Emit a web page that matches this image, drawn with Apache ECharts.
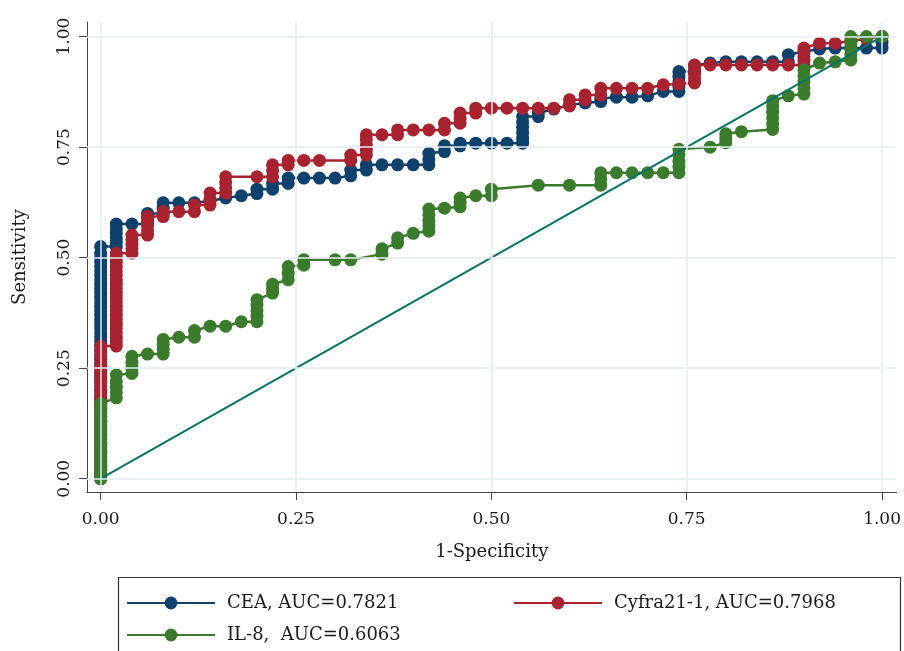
<!DOCTYPE html>
<html>
<head>
<meta charset="utf-8">
<script src="https://cdn.jsdelivr.net/npm/echarts@6/dist/echarts.min.js"></script>
<style>html,body{margin:0;padding:0;background:#fff}#c{width:904px;height:651px}</style>
</head>
<body>
<div id="c"></div>
<script>
// ---- data ----
const xTickValues = [0, 0.25, 0.5, 0.75, 1];
const yTickValues = [0, 0.25, 0.5, 0.75, 1];
const tickLabels = ['0.00', '0.25', '0.50', '0.75', '1.00'];
const seriesNames = ['CEA, AUC=0.7821', 'Cyfra21-1, AUC=0.7968', 'IL-8,  AUC=0.6063'];
const xTitle = '1-Specificity';
const yTitle = 'Sensitivity';

const cea = [
  [0,0],[0,0.01],[0,0.02],[0,0.03],[0,0.04],[0,0.05],[0,0.06],[0,0.07],[0,0.08],[0,0.09],
  [0,0.10],[0,0.11],[0,0.12],[0,0.13],[0,0.14],[0,0.15],[0,0.16],[0,0.17],[0,0.18],[0,0.19],
  [0,0.20],[0,0.21],[0,0.22],[0,0.23],[0,0.24],[0,0.25],[0,0.26],[0,0.27],[0,0.28],[0,0.29],
  [0,0.30],[0,0.31],[0,0.32],[0,0.33],[0,0.34],[0,0.35],[0,0.36],[0,0.37],[0,0.38],[0,0.39],
  [0,0.40],[0,0.41],[0,0.42],[0,0.43],[0,0.44],[0,0.45],[0,0.46],[0,0.47],[0,0.48],[0,0.49],
  [0,0.50],[0,0.51],[0,0.525],
  [0.02,0.525],[0.02,0.535],[0.02,0.545],[0.02,0.555],[0.02,0.565],[0.02,0.576],
  [0.04,0.576],
  [0.06,0.576],[0.06,0.59],[0.06,0.60],
  [0.08,0.60],[0.08,0.612],[0.08,0.624],
  [0.10,0.624],[0.12,0.624],
  [0.14,0.628],[0.16,0.635],[0.18,0.640],
  [0.20,0.645],[0.20,0.655],
  [0.22,0.655],[0.22,0.668],
  [0.24,0.668],[0.24,0.68],
  [0.26,0.68],[0.28,0.68],[0.30,0.68],
  [0.32,0.685],[0.32,0.698],
  [0.34,0.698],[0.34,0.71],
  [0.36,0.71],[0.38,0.71],[0.40,0.71],
  [0.42,0.71],[0.42,0.722],[0.42,0.736],
  [0.44,0.74],[0.44,0.753],
  [0.46,0.753],[0.46,0.759],
  [0.48,0.759],[0.50,0.759],[0.52,0.759],
  [0.54,0.759],[0.54,0.77],[0.54,0.782],[0.54,0.795],[0.54,0.807],[0.54,0.819],
  [0.56,0.819],[0.56,0.827],
  [0.58,0.836],[0.60,0.845],[0.62,0.85],
  [0.64,0.853],[0.64,0.86],
  [0.66,0.863],[0.68,0.863],[0.70,0.866],
  [0.72,0.876],
  [0.74,0.876],[0.74,0.887],[0.74,0.898],[0.74,0.91],[0.74,0.921],
  [0.76,0.921],[0.76,0.935],
  [0.78,0.94],
  [0.80,0.943],[0.82,0.943],[0.84,0.943],[0.86,0.943],
  [0.88,0.943],[0.88,0.959],
  [0.90,0.966],[0.92,0.972],
  [0.94,0.974],[0.96,0.974],[0.98,0.974],[1.0,0.974],[1.0,0.987],[1.0,1.0]
];

const cyfra = [
  [0,0],[0,0.01],[0,0.02],[0,0.03],[0,0.04],[0,0.05],[0,0.06],[0,0.07],[0,0.08],[0,0.09],
  [0,0.10],[0,0.11],[0,0.12],[0,0.13],[0,0.14],[0,0.15],[0,0.16],[0,0.17],[0,0.18],[0,0.19],
  [0,0.20],[0,0.21],[0,0.22],[0,0.23],[0,0.24],[0,0.25],[0,0.26],[0,0.27],[0,0.28],[0,0.29],[0,0.30],
  [0.02,0.30],[0.02,0.31],[0.02,0.32],[0.02,0.33],[0.02,0.34],[0.02,0.35],[0.02,0.36],[0.02,0.37],
  [0.02,0.38],[0.02,0.39],[0.02,0.40],[0.02,0.41],[0.02,0.42],[0.02,0.43],[0.02,0.44],[0.02,0.45],
  [0.02,0.46],[0.02,0.47],[0.02,0.48],[0.02,0.49],[0.02,0.50],[0.02,0.51],
  [0.04,0.51],[0.04,0.52],[0.04,0.53],[0.04,0.54],[0.04,0.551],
  [0.06,0.551],[0.06,0.561],[0.06,0.572],[0.06,0.582],[0.06,0.593],
  [0.08,0.593],[0.08,0.604],
  [0.10,0.604],
  [0.12,0.604],[0.12,0.619],
  [0.14,0.619],[0.14,0.632],[0.14,0.646],
  [0.16,0.646],[0.16,0.658],[0.16,0.67],[0.16,0.683],
  [0.20,0.683],
  [0.22,0.683],[0.22,0.697],[0.22,0.71],
  [0.24,0.71],[0.24,0.72],
  [0.26,0.72],[0.28,0.72],
  [0.32,0.72],[0.32,0.732],
  [0.34,0.732],[0.34,0.744],[0.34,0.755],[0.34,0.767],[0.34,0.778],
  [0.36,0.778],
  [0.38,0.778],[0.38,0.789],
  [0.40,0.789],[0.42,0.789],
  [0.44,0.789],[0.44,0.804],
  [0.46,0.804],[0.46,0.815],[0.46,0.827],
  [0.48,0.827],[0.48,0.838],
  [0.50,0.838],[0.52,0.838],[0.54,0.838],[0.56,0.838],[0.58,0.838],
  [0.60,0.843],[0.60,0.857],
  [0.62,0.857],[0.62,0.868],
  [0.64,0.868],[0.64,0.883],
  [0.66,0.883],[0.68,0.883],[0.70,0.883],
  [0.72,0.891],[0.74,0.893],
  [0.76,0.895],[0.76,0.905],[0.76,0.915],[0.76,0.926],[0.76,0.936],
  [0.78,0.936],[0.80,0.936],[0.82,0.936],[0.84,0.936],[0.86,0.936],[0.88,0.936],
  [0.90,0.936],[0.90,0.946],[0.90,0.955],[0.90,0.965],[0.90,0.974],
  [0.92,0.985],[0.94,0.985],[0.96,0.99],[0.98,0.995],[1.0,1.0]
];

const il8 = [
  [0,0],[0,0.01],[0,0.02],[0,0.03],[0,0.04],[0,0.05],[0,0.06],[0,0.07],[0,0.08],[0,0.09],
  [0,0.10],[0,0.11],[0,0.12],[0,0.13],[0,0.14],[0,0.15],[0,0.16],[0,0.17],
  [0.02,0.183],[0.02,0.195],[0.02,0.207],[0.02,0.22],[0.02,0.235],
  [0.04,0.238],[0.04,0.25],[0.04,0.263],[0.04,0.277],
  [0.06,0.282],
  [0.08,0.282],[0.08,0.293],[0.08,0.304],[0.08,0.315],
  [0.10,0.32],
  [0.12,0.32],[0.12,0.335],
  [0.14,0.345],[0.16,0.345],
  [0.18,0.355],
  [0.20,0.355],[0.20,0.368],[0.20,0.38],[0.20,0.393],[0.20,0.405],
  [0.22,0.42],[0.22,0.43],[0.22,0.44],
  [0.24,0.45],[0.24,0.465],[0.24,0.48],
  [0.26,0.483],[0.26,0.495],
  [0.30,0.495],[0.32,0.495],
  [0.36,0.508],[0.36,0.52],
  [0.38,0.533],[0.38,0.545],
  [0.40,0.555],
  [0.42,0.56],[0.42,0.572],[0.42,0.584],[0.42,0.597],[0.42,0.61],
  [0.44,0.612],
  [0.46,0.615],[0.46,0.625],[0.46,0.635],
  [0.48,0.64],
  [0.50,0.64],[0.50,0.655],
  [0.56,0.664],[0.60,0.664],
  [0.64,0.664],[0.64,0.678],[0.64,0.692],
  [0.66,0.692],[0.68,0.692],[0.70,0.692],[0.72,0.692],
  [0.74,0.692],[0.74,0.705],[0.74,0.718],[0.74,0.732],[0.74,0.745],
  [0.78,0.75],
  [0.80,0.76],[0.80,0.77],[0.80,0.78],
  [0.82,0.785],
  [0.86,0.79],[0.86,0.803],[0.86,0.816],[0.86,0.829],[0.86,0.842],[0.86,0.855],
  [0.88,0.866],
  [0.90,0.87],[0.90,0.884],[0.90,0.898],[0.90,0.912],[0.90,0.925],
  [0.92,0.94],[0.94,0.943],
  [0.96,0.947],[0.96,0.96],[0.96,0.973],[0.96,0.987],[0.96,1.0],
  [0.98,1.0],[1.0,1.0]
];

const reference = [[0,0],[1,1]];

// ---- chart ----
const FONT = 'DejaVu Serif';
const colors = ['#0f416d', '#a8232f', '#3a7b2c'];
const refColor = '#07726a';
const gridColor = '#e2edf1';

function labelFor(v) {
  const i = xTickValues.findIndex(t => Math.abs(t - v) < 1e-9);
  return i >= 0 ? tickLabels[i] : '';
}

function rocSeries(name, data, color) {
  return {
    name: name, type: 'line', data: data,
    symbol: 'circle', symbolSize: 13, showSymbol: true,
    lineStyle: { color: color, width: 2.5 },
    itemStyle: { color: color },
    z: 3
  };
}

function legendAt(name, left, top) {
  return {
    data: [name], left: left, top: top, padding: 0,
    itemWidth: 88, itemHeight: 16, selectedMode: false,
    textStyle: { fontFamily: FONT, fontSize: 18, color: '#1a1a1a', padding: [0, 0, 0, 7] }
  };
}

const chart = echarts.init(document.getElementById('c'), null, { renderer: 'canvas' });
chart.setOption({
  animation: false,
  backgroundColor: '#fff',
  grid: { left: 87, right: 1, top: 22, bottom: 159, containLabel: false },
  xAxis: {
    type: 'value', min: -0.0175, max: 1.0185,
    name: xTitle, nameLocation: 'middle', nameGap: 51,
    nameTextStyle: { fontFamily: FONT, fontSize: 18, color: '#1a1a1a' },
    axisLine: { show: true, onZero: false, lineStyle: { color: '#444', width: 1 } },
    axisTick: { show: true, length: 8, customValues: xTickValues, lineStyle: { color: '#444' } },
    axisLabel: { customValues: xTickValues, formatter: labelFor, margin: 19,
      fontFamily: FONT, fontSize: 17, color: '#1a1a1a' },
    splitLine: { show: false }
  },
  yAxis: {
    type: 'value', min: -0.03, max: 1.033,
    name: yTitle, nameLocation: 'middle', nameGap: 58, nameRotate: 90,
    nameTextStyle: { fontFamily: FONT, fontSize: 18, color: '#1a1a1a' },
    axisLine: { show: true, onZero: false, lineStyle: { color: '#444', width: 1 } },
    axisTick: { show: true, length: 8, customValues: yTickValues, lineStyle: { color: '#444' } },
    axisLabel: { customValues: yTickValues, formatter: labelFor, rotate: 90, margin: 14,
      fontFamily: FONT, fontSize: 17, color: '#1a1a1a' },
    splitLine: { show: false }
  },
  legend: [
    legendAt(seriesNames[0], 126, 594),
    legendAt(seriesNames[1], 513, 594),
    legendAt(seriesNames[2], 126, 626)
  ],
  graphic: [{
    type: 'rect', left: 116, top: 575,
    shape: { width: 782, height: 120 },
    style: { fill: 'none', stroke: '#333', lineWidth: 1.2 }, silent: true
  }],
  series: [
    {
      name: 'grid', type: 'line', data: [[0, 0]], symbol: 'none',
      lineStyle: { opacity: 0 }, silent: true, z: 1,
      markLine: {
        silent: true, symbol: ['none', 'none'], label: { show: false },
        lineStyle: { color: gridColor, width: 1.5, type: 'solid' },
        emphasis: { disabled: true },
        data: xTickValues.map(v => ({ xAxis: v })).concat(yTickValues.map(v => ({ yAxis: v })))
      }
    },
    rocSeries(seriesNames[0], cea, colors[0]),
    rocSeries(seriesNames[1], cyfra, colors[1]),
    rocSeries(seriesNames[2], il8, colors[2]),
    {
      name: 'reference', type: 'line', data: reference, symbol: 'none',
      lineStyle: { color: refColor, width: 2 }, z: 4
    }
  ]
});
</script>
</body>
</html>
